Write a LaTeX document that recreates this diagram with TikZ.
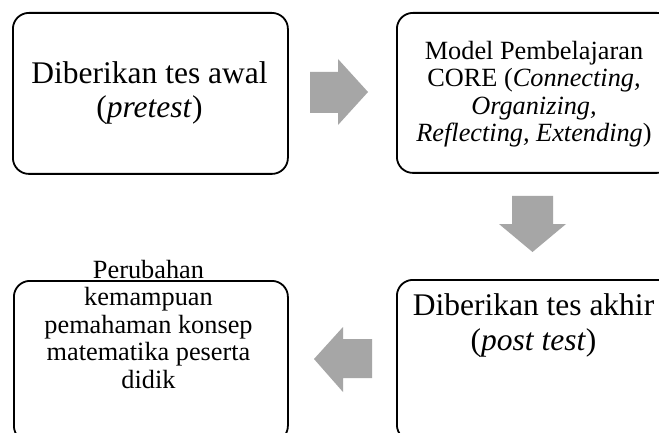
\documentclass[tikz,border=0pt]{standalone}
\usepackage{fontspec}
\setmainfont{Liberation Serif}
\definecolor{arrowgray}{RGB}{166,166,166}
\begin{document}
\begin{tikzpicture}[x=1pt,y=-1pt,
  box/.style={draw=black, line width=1.8pt, rounded corners=16pt, anchor=north west, inner sep=0pt},
  bigtext/.style={font=\fontsize{31.5}{34.5}\selectfont, align=center, anchor=base, inner sep=0pt},
  smalltext/.style={font=\fontsize{26.3}{27.5}\selectfont, align=center, anchor=base, inner sep=0pt},
  blockarrow/.style={fill=arrowgray, draw=none}]
\useasboundingbox (0,0) rectangle (659,433);
\fill[white] (0,0) rectangle (659,433);

% boxes
\node[box, minimum width=275pt, minimum height=161pt] (b1) at (12,12) {};
\node[box, minimum width=276pt, minimum height=160pt] (b2) at (396,12) {};
\node[box, minimum width=276pt, minimum height=161pt] (b3) at (396,279) {};
\node[box, minimum width=274pt, minimum height=161pt] (b4) at (13,280) {};

% texts (anchored at the baseline of the last line)
\node[bigtext] (t1) at (149.5,118) {Diberikan tes awal\\(\textit{pretest})};
\node[smalltext] (t2) at (534,142) {Model Pembelajaran\\CORE (\textit{Connecting,}\\\textit{Organizing,}\\\textit{Reflecting, Extending})};
\node[bigtext] (t3) at (533.5,350) {Diberikan tes akhir\\(\textit{post test})};
\node[smalltext] (t4) at (148.5,388) {Perubahan\\kemampuan\\pemahaman konsep\\matematika peserta\\didik};

% block arrows
\fill[blockarrow] (310,72) -- (338,72) -- (338,59) -- (368,92) -- (338,125) -- (338,113) -- (310,113) -- cycle;
\fill[blockarrow] (512,196) -- (553,196) -- (553,224) -- (566,224) -- (532.5,252) -- (499,224) -- (512,224) -- cycle;
\fill[blockarrow] (372,339) -- (343,339) -- (343,327) -- (314,359) -- (343,392) -- (343,378) -- (372,378) -- cycle;
\end{tikzpicture}
\end{document}
